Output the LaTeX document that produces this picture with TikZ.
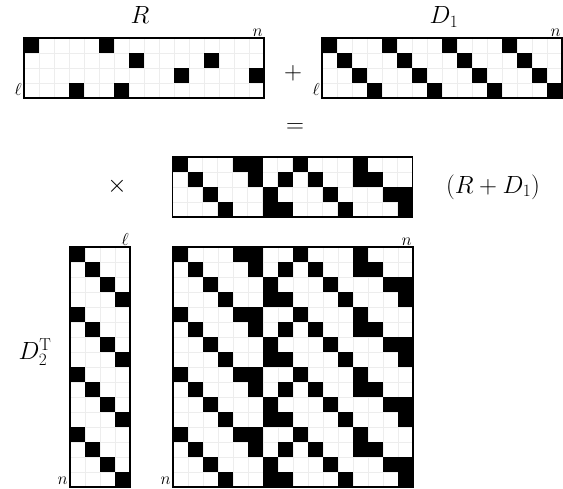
\documentclass[tikz,border=0pt]{standalone}
\usetikzlibrary{calc}
\tikzset{
  x=1pt, y=-1pt,
  matbox/.style={inner sep=0pt, outer sep=0pt, minimum height=#1},
  border/.style={line width=1.7pt},
  gridline/.style={line width=0.3pt, gray!14},
  biglabel/.style={inner sep=0pt, font=\fontsize{23}{28}\selectfont},
  cornerlabel/.style={inner sep=1pt, anchor=south east, font=\fontsize{17}{20}\selectfont},
}
\newcommand{\cellsize}{15}
% #1 node, #2 list of row/col
\newcommand{\blackcells}[2]{%
  \foreach \r/\c in {#2} {%
    \fill ($(#1.north west)+({(\c)*\cellsize},{(\r)*\cellsize})$) rectangle ++(\cellsize,\cellsize);}}
% #1 node, #2 rows, #3 cols
\newcommand{\gridof}[3]{%
  \foreach \i in {1,...,\numexpr#2-1\relax}
    \draw[gridline] ($(#1.north west)+(0,\i*\cellsize)$) -- ++(#3*\cellsize,0);
  \foreach \j in {1,...,\numexpr#3-1\relax}
    \draw[gridline] ($(#1.north west)+(\j*\cellsize,0)$) -- ++(0,#2*\cellsize);}
\newcommand{\borderof}[1]{\draw[border] (#1.north west) rectangle (#1.south east);}
\begin{document}
\begin{tikzpicture}
\useasboundingbox (0,0) rectangle (563,489);

% matrix boxes
\node[matbox=60pt, minimum width=240pt] (R) at (144,68) {};
\node[matbox=60pt, minimum width=240pt] (D1) at (442,68) {};
\node[matbox=60pt, minimum width=240pt] (M) at (292.5,187) {};
\node[matbox=240pt, minimum width=60pt] (D2) at (100,367) {};
\node[matbox=240pt, minimum width=240pt] (P) at (293,367) {};

% grids
\gridof{R}{4}{16}
\gridof{D1}{4}{16}
\gridof{M}{4}{16}
\gridof{D2}{16}{4}
\gridof{P}{16}{16}

% R
\blackcells{R}{0/0,0/5,1/7,1/12,2/10,2/15,3/3,3/6}
% D1
\foreach \k in {0,4,8,12} {\blackcells{D1}{0/\k,1/\k+1,2/\k+2,3/\k+3}}
% R + D1
\blackcells{M}{0/0,0/4,0/5,0/8,0/12,
  1/1,1/5,1/7,1/9,1/12,1/13,
  2/2,2/6,2/10,2/14,2/15,
  3/3,3/6,3/7,3/11,3/15}
% D2^T
\foreach \k in {0,4,8,12} {\blackcells{D2}{\k/0,\k+1/1,\k+2/2,\k+3/3}}
% product
\foreach \k in {0,4,8,12} {%
  \blackcells{P}{\k/0,\k/4,\k/5,\k/8,\k/12,
    \k+1/1,\k+1/5,\k+1/7,\k+1/9,\k+1/12,\k+1/13,
    \k+2/2,\k+2/6,\k+2/10,\k+2/14,\k+2/15,
    \k+3/3,\k+3/6,\k+3/7,\k+3/11,\k+3/15}}

% borders
\borderof{R}
\borderof{D1}
\borderof{M}
\borderof{D2}
\borderof{P}

% labels
\node[biglabel, anchor=base] (lR) at (140,24) {$R$};
\node[biglabel, anchor=base] (lD1) at (444,24) {$D_1$};
\node[biglabel] (plus) at (293,73) {$+$};
\node[biglabel] (eq) at (295,128) {$=$};
\node[biglabel] (times) at (117,186) {$\times$};
\node[biglabel] (lM) at (493,187) {$(R+D_1)$};
\node[biglabel] (lD2) at (35,352) {$D_2^{\mathrm{T}}$};

\node[cornerlabel] (nR) at (R.north east) {$n$};
\node[cornerlabel, inner sep=2pt] (lR2) at (R.south west) {$\ell$};
\node[cornerlabel] (nD1) at (D1.north east) {$n$};
\node[cornerlabel, inner sep=2pt] (lD12) at (D1.south west) {$\ell$};
\node[cornerlabel] (lD22) at (D2.north east) {$\ell$};
\node[cornerlabel, inner sep=2pt] (nD2) at (D2.south west) {$n$};
\node[cornerlabel] (nP) at (P.north east) {$n$};
\node[cornerlabel, inner sep=2pt] (nP2) at (P.south west) {$n$};
\end{tikzpicture}
\end{document}
